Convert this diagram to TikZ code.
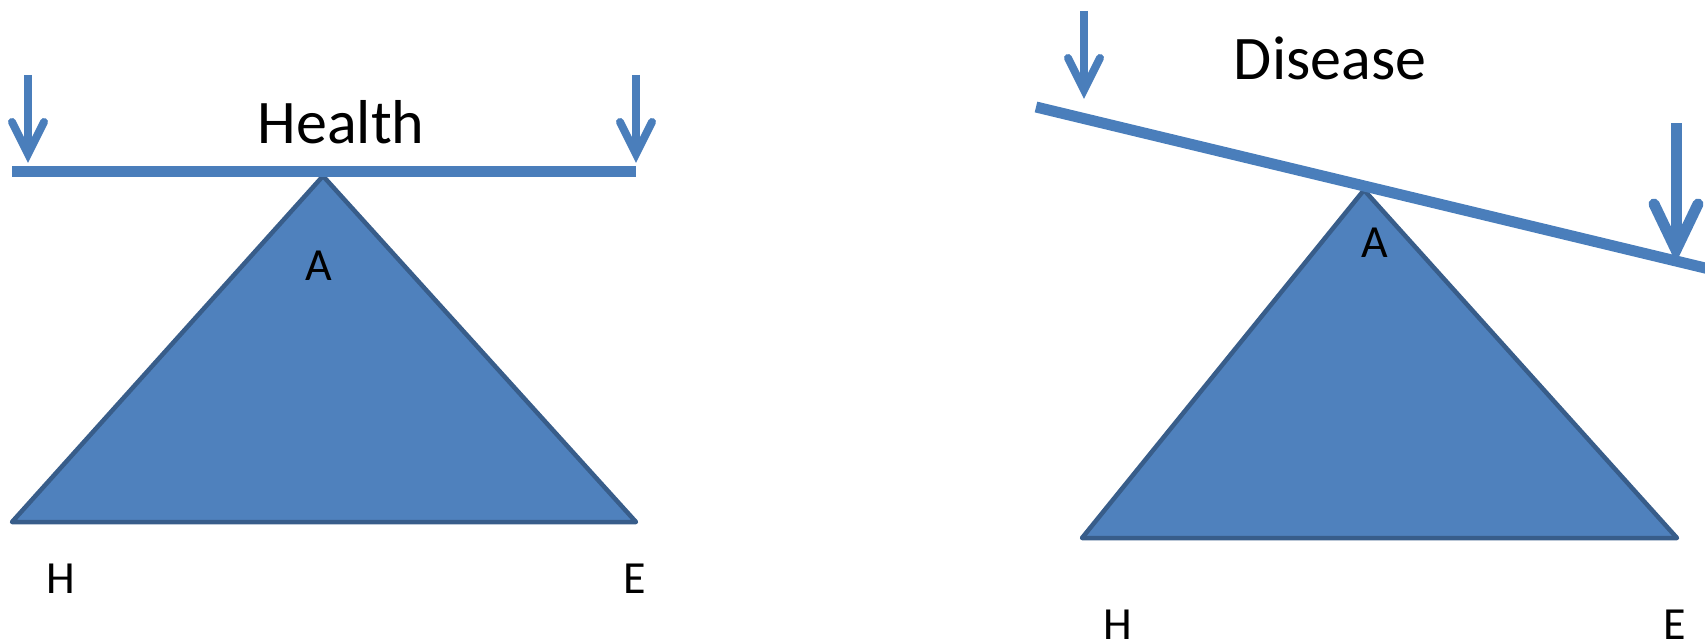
\documentclass[tikz,border=0pt]{standalone}
\usepackage{fontspec}
\setmainfont{Carlito}
\definecolor{beamblue}{HTML}{4A7EBB}
\definecolor{trifill}{HTML}{4F81BD}
\definecolor{triline}{HTML}{385D8A}
\tikzset{
  beam/.style={draw=beamblue, line width=11pt, line cap=butt},
  tri/.style={fill=trifill, draw=triline, line width=4.5pt, line join=round},
  shaft/.style={draw=beamblue, line cap=butt},
  vhead/.style={draw=beamblue, line cap=round, line join=miter},
  title/.style={font=\fontsize{62}{70}\selectfont, anchor=base, inner sep=0pt},
  lbl/.style={font=\fontsize{46}{52}\selectfont, anchor=base, inner sep=0pt},
}
\begin{document}
\begin{tikzpicture}[x=1pt,y=-1pt]
\useasboundingbox (0,0) rectangle (1705,642);
\clip (0,0) rectangle (1705,642);
% ---------- Health ----------
\coordinate (hA) at (323,176);
\coordinate (hH) at (12,522);
\coordinate (hE) at (636,522);
\draw[tri] (hA) -- (hH) -- (hE) -- cycle;
\coordinate (hb1) at (12,171.5);
\coordinate (hb2) at (636,171.5);
\draw[beam] (hb1) -- (hb2);
% arrows
\coordinate (ha1s) at (28,75);  \coordinate (ha1t) at (28,154);
\coordinate (ha1l) at (12,122); \coordinate (ha1r) at (44,122);
\draw[shaft, line width=8pt] (ha1s) -- (ha1t);
\draw[vhead, line width=8pt] (ha1l) -- (ha1t) -- (ha1r);
\coordinate (ha2s) at (636,75);  \coordinate (ha2t) at (636,154);
\coordinate (ha2l) at (620,122); \coordinate (ha2r) at (652,122);
\draw[shaft, line width=8pt] (ha2s) -- (ha2t);
\draw[vhead, line width=8pt] (ha2l) -- (ha2t) -- (ha2r);
\node[title] (health) at (341,143) {Health};
\node[lbl] (hAl) at (319,280) {A};
\node[lbl] (hHl) at (61,593) {H};
\node[lbl] (hEl) at (635,593) {E};
% ---------- Disease ----------
\coordinate (dA) at (1364,190);
\coordinate (dH) at (1082,538);
\coordinate (dE) at (1677,538);
\draw[tri] (dA) -- (dH) -- (dE) -- cycle;
\coordinate (db1) at (1036,107);
\coordinate (db2) at (1725,272.8);
\draw[beam] (db1) -- (db2);
\coordinate (da1s) at (1084,11);  \coordinate (da1t) at (1084,90);
\coordinate (da1l) at (1068,58);  \coordinate (da1r) at (1100,58);
\draw[shaft, line width=8pt] (da1s) -- (da1t);
\draw[vhead, line width=8pt] (da1l) -- (da1t) -- (da1r);
\coordinate (da2s) at (1676,123); \coordinate (da2t) at (1676,250);
\coordinate (da2l) at (1654,204); \coordinate (da2r) at (1698,204);
\draw[shaft, line width=11pt] (da2s) -- (da2t);
\draw[vhead, line width=11pt] (da2l) -- (da2t) -- (da2r);
\node[title] (disease) at (1330,80) {Disease};
\node[lbl] (dAl) at (1375,257) {A};
\node[lbl] (dHl) at (1118,639) {H};
\node[lbl] (dEl) at (1675,639) {E};
\end{tikzpicture}
\end{document}
